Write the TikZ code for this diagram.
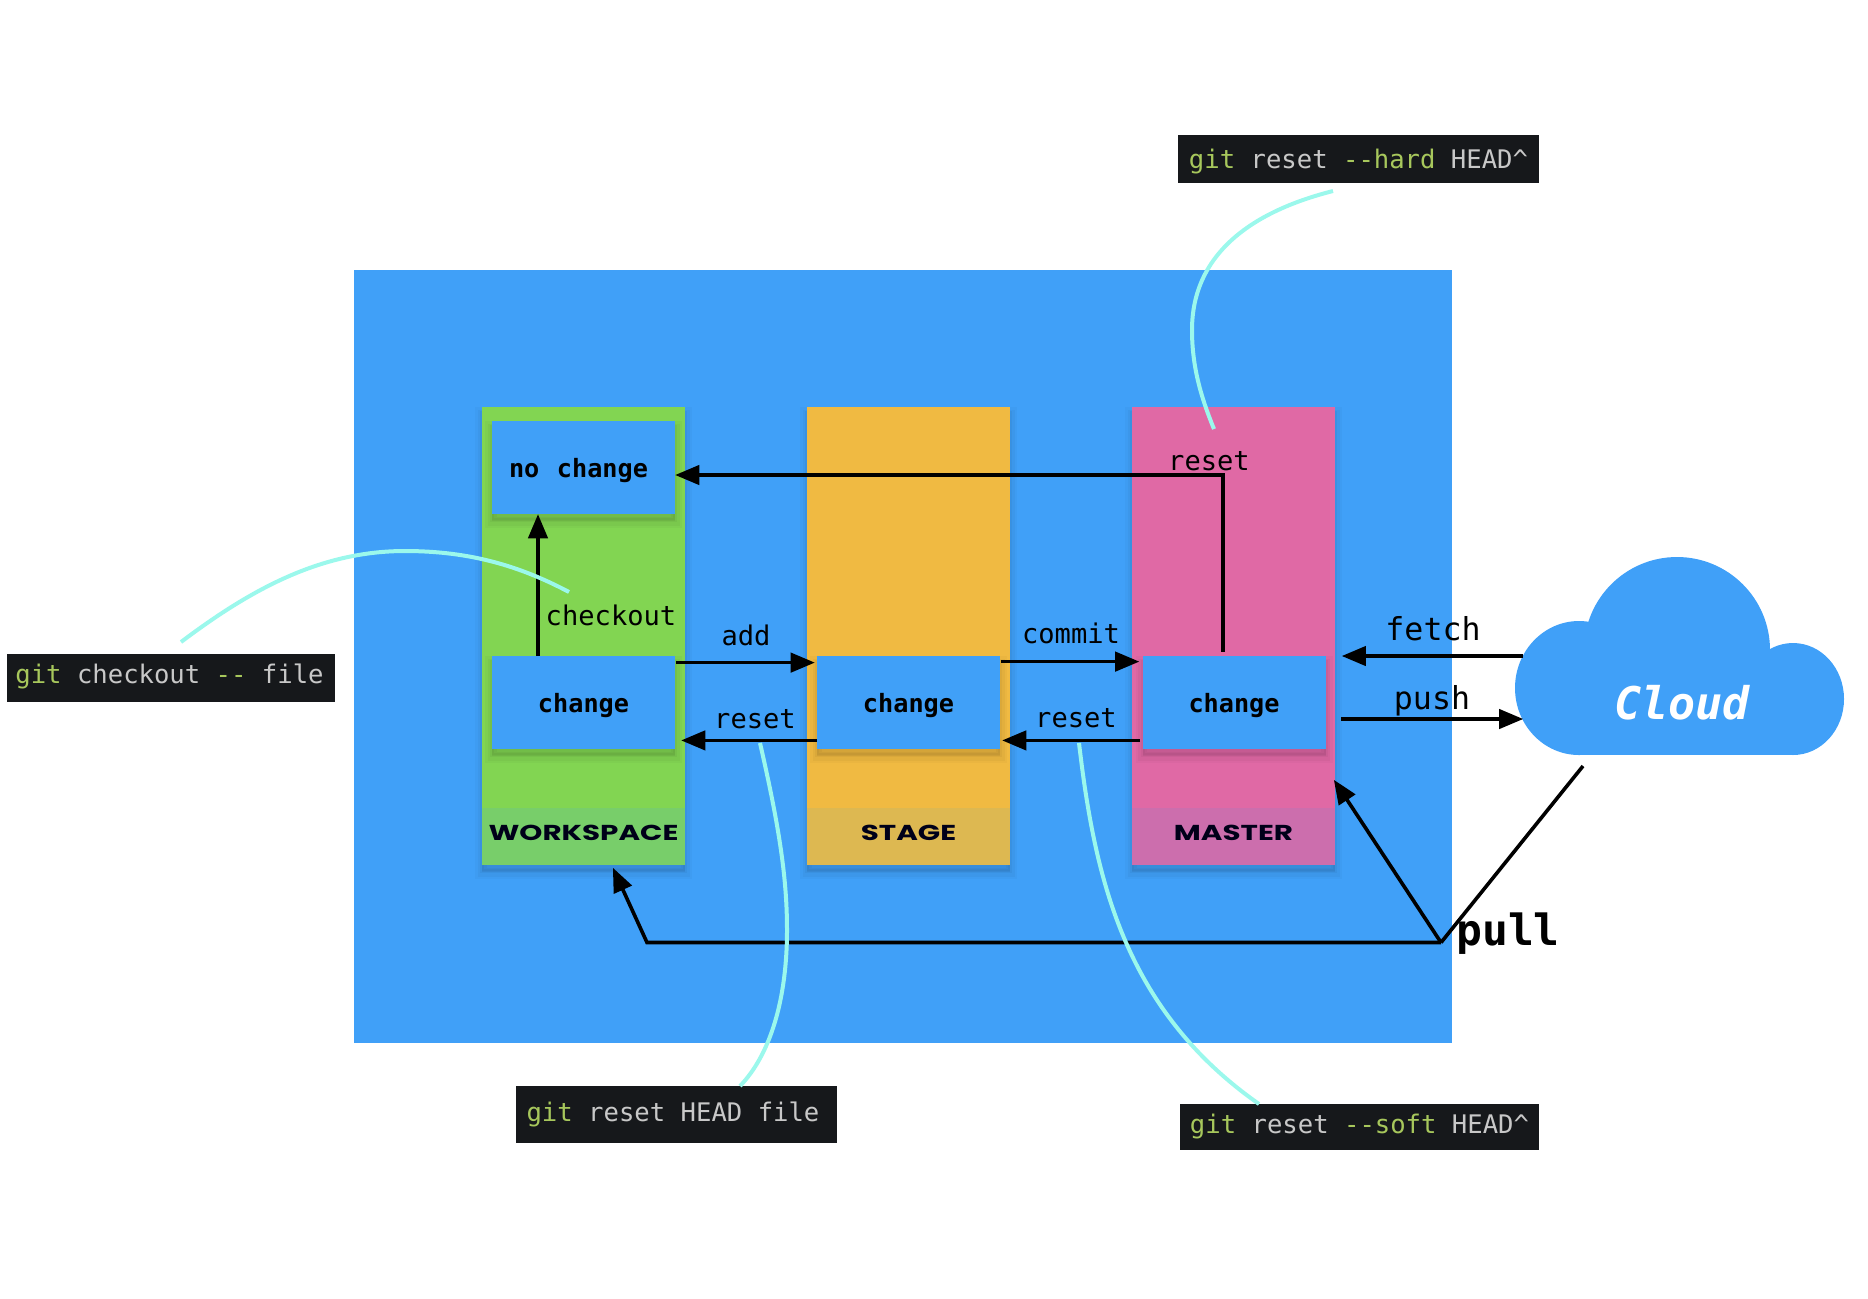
\documentclass[tikz,border=0pt]{standalone}
\usepackage{fontspec}
\usetikzlibrary{arrows}
\newfontfamily\codefont{DejaVu Sans Mono}
\newfontfamily\bandfont[FakeStretch=1.36]{Poppins}
\definecolor{pageblue}{HTML}{40A0F8}
\definecolor{wsgreen}{HTML}{82D552}
\definecolor{wsband}{HTML}{78CE6A}
\definecolor{stageorange}{HTML}{F0BA42}
\definecolor{stageband}{HTML}{DDB851}
\definecolor{masterpink}{HTML}{E069A5}
\definecolor{masterband}{HTML}{CC6EAD}
\definecolor{termblack}{HTML}{16181B}
\definecolor{termgreen}{HTML}{A7C75C}
\definecolor{termgrey}{HTML}{C8C8C8}
\definecolor{curveteal}{HTML}{9BF8EC}
\newcommand{\gitg}[1]{\textcolor{termgreen}{#1}}
\begin{document}
\begin{tikzpicture}[x=0.5pt,y=-0.5pt]
	\tikzstyle{every node}=[inner sep=0pt, font=\codefont\fontsize{13.55pt}{16pt}\selectfont]
	\tikzstyle{softshadow}=[preaction={fill=black,draw=black,opacity=.025,line width=7pt,transform canvas={yshift=-3.5pt}},
		preaction={fill=black,draw=black,opacity=.03,line width=4.5pt,transform canvas={yshift=-3.5pt}},
		preaction={fill=black,draw=black,opacity=.035,line width=2pt,transform canvas={yshift=-3pt}}]
	\tikzstyle{column}=[softshadow, minimum width=101.5pt, minimum height=229pt]
	\tikzstyle{band}=[minimum width=101.5pt, minimum height=28.5pt, text height=3.5pt, text depth=0pt, text=black!90!blue,
		font=\bandfont\bfseries\fontsize{10.8pt}{12pt}\selectfont]
	\tikzstyle{changebox}=[softshadow, fill=pageblue, minimum width=91.5pt, minimum height=46.5pt, text height=9.5pt, text depth=0pt,
		font=\codefont\bfseries\fontsize{12.6pt}{15pt}\selectfont]
	\tikzstyle{cmdbox}=[fill=termblack, text=termgrey, text depth=0pt, font=\codefont\fontsize{12.8pt}{15pt}\selectfont]
	\tikzstyle{oplabel}=[anchor=base]
	\tikzstyle{bigop}=[anchor=base, font=\codefont\fontsize{15.8pt}{18pt}\selectfont]
	\tikzstyle{flow}=[-triangle 45, line width=1.8pt]
	\tikzstyle{plain}=[line width=1.8pt]
	\tikzstyle{hint}=[curveteal, line width=2pt]
	\useasboundingbox (0,0) rectangle (1868,1298);
	\draw (903,656.5) node[fill=pageblue, minimum width=549pt, minimum height=386.5pt] (stagearea) {};
	% columns
	\draw (583.5,636) node[column, fill=wsgreen] (workspace) {};
	\draw (908.5,636) node[column, fill=stageorange] (stage) {};
	\draw (1233.5,636) node[column, fill=masterpink] (master) {};
	\draw (583.5,836.5) node[band, fill=wsband] (wsband) {WORKSPACE};
	\draw (908.5,836.5) node[band, fill=stageband] (stband) {STAGE};
	\draw (1233.5,836.5) node[band, fill=masterband] (mband) {MASTER};
	% boxes
	\draw (583.5,467.5) node[changebox] (nochange) {no\kern1.2pt\ change\kern5pt};
	\draw (583.5,702.5) node[changebox] (wchange) {change};
	\draw (908.5,702.5) node[changebox] (schange) {change};
	\draw (1234,702.5) node[changebox] (mchange) {change};
	% cloud
	\fill[pageblue] (1579,688) ellipse [x radius=32pt, y radius=33.5pt];
	\fill[pageblue] (1677,650) ellipse [x radius=46.5pt, y radius=46.5pt];
	\fill[pageblue] (1793,699) ellipse [x radius=25.5pt, y radius=28pt];
	\fill[pageblue] (1579,690) rectangle (1793,755);
	\draw (1682,719) node[anchor=base, text=white, font=\codefont\bfseries\itshape\fontsize{22.5pt}{26pt}\selectfont] (cloud) {Cloud};
	\coordinate (fetchstart) at (1523,656);
	\coordinate (fetchend) at (1342,656);
	\coordinate (pushstart) at (1341,719);
	\coordinate (pushend) at (1523,719);
	\coordinate (pullstart) at (1583,766);
	\coordinate (pullfork) at (1441,942.5);
	\coordinate (pullbend) at (647,942.5);
	\coordinate (pullmaster) at (1334,780);
	\coordinate (pullworkspace) at (613,868);
	% arrows
	\draw[flow] ([xshift=-22.75pt]wchange.north) -- ([xshift=-22.75pt]nochange.south);
	\draw[flow] ([shift={(.5pt,-3.5pt)}]wchange.north east) -- ([shift={(-1pt,-3.5pt)}]schange.north west);
	\draw[flow] ([yshift=4.5pt]schange.south west) -- ([shift={(3pt,4.5pt)}]wchange.south east);
	\draw[flow] ([shift={(.5pt,-3pt)}]schange.north east) -- ([shift={(-1.5pt,-3pt)}]mchange.north west);
	\draw[flow] ([shift={(-1pt,4.5pt)}]mchange.south west) -- ([shift={(1pt,4.5pt)}]schange.south east);
	\draw[flow] ([shift={(-5.5pt,2pt)}]mchange.north) |- ([yshift=-3.75pt]nochange.east);
	\draw[flow] (fetchstart) -- (fetchend);
	\draw[flow] (pushstart) -- (pushend);
	\draw[plain] (pullstart) -- (pullfork);
	\draw[flow] (pullfork) -- (pullmaster);
	\draw[flow] (pullfork) -- (pullbend) -- (pullworkspace);
	% labels
	\draw (611,625) node[oplabel] (checkoutlabel) {checkout};
	\draw (746,645) node[oplabel] (addlabel) {add};
	\draw (755,728) node[oplabel] (resetwlabel) {reset};
	\draw (1071,643) node[oplabel] (commitlabel) {commit};
	\draw (1076,727) node[oplabel] (resetslabel) {reset};
	\draw (1209,470) node[oplabel] (resetmlabel) {reset};
	\draw (1433,640) node[bigop] (fetchlabel) {fetch};
	\draw (1432,709) node[bigop] (pushlabel) {push};
	\draw (1508,945) node[anchor=base, font=\codefont\bfseries\fontsize{21.5pt}{25pt}\selectfont] (pulllabel) {pull};
	% commands
	\draw (1358.5,159) node[cmdbox, text height=9pt, minimum width=180.5pt, minimum height=24pt] (hardcmd) {\gitg{git} reset \gitg{--hard} HEAD\textasciicircum};
	\draw (171,678) node[cmdbox, text height=5pt, minimum width=164pt, minimum height=24pt] (checkoutcmd) {\gitg{git} checkout \gitg{--} file\kern1.5pt};
	\draw (676.5,1114.5) node[cmdbox, text height=6.5pt, minimum width=160.5pt, minimum height=28.5pt] (headcmd) {\gitg{git} reset HEAD file\kern3.5pt};
	\draw (1359.5,1127) node[cmdbox, text height=6pt, minimum width=179.5pt, minimum height=23pt] (softcmd) {\gitg{git} reset \gitg{--soft} HEAD\textasciicircum};
	% curves
	\draw[hint] (1333,191) .. controls (1250,212) and (1192,255) .. (1192,330) .. controls (1192,365) and (1200,395) .. (1214,429);
	\draw[hint] (181,642) .. controls (250,590) and (320,551) .. (405,551) .. controls (470,551) and (520,566) .. (569,592);
	\draw[hint] (760,743) .. controls (780,830) and (787,880) .. (787,930) .. controls (787,1000) and (770,1055) .. (740,1086);
	\draw[hint] (1079,743) .. controls (1095,880) and (1125,1010) .. (1259,1104);
\end{tikzpicture}
\end{document}
